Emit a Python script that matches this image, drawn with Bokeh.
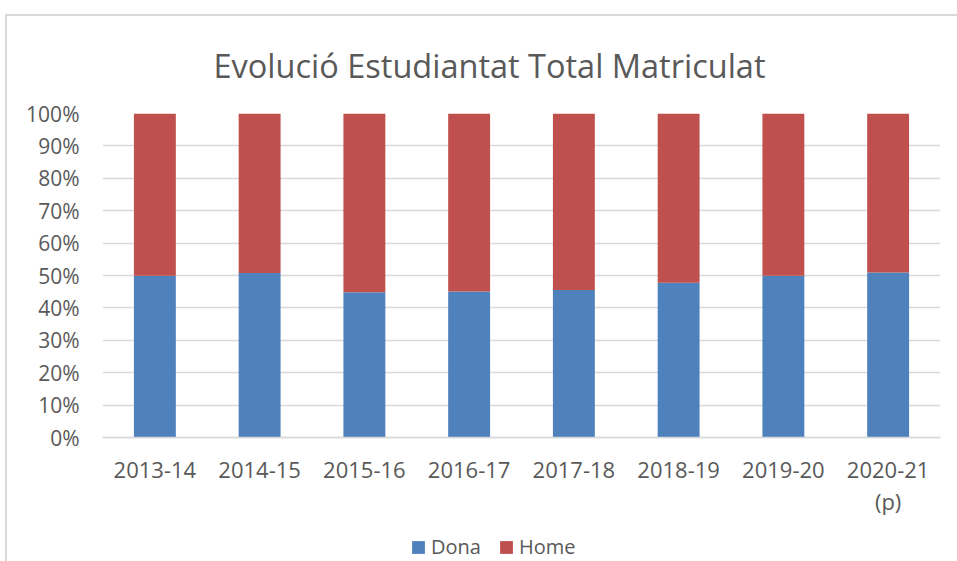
from bokeh.plotting import figure
from bokeh.models import ColumnDataSource, NumeralTickFormatter, FixedTicker, Legend, Label
from bokeh.embed import file_html
from bokeh.resources import INLINE

cursos = ["2013-14", "2014-15", "2015-16", "2016-17", "2017-18", "2018-19", "2019-20", "2020-21"]
nota_curs = "2020-21"
nota = "(p)"
dona = [0.499, 0.508, 0.448, 0.451, 0.455, 0.478, 0.499, 0.509]
home = [round(1 - d, 3) for d in dona]
ticks_y = [0.0, 0.1, 0.2, 0.3, 0.4, 0.5, 0.6, 0.7, 0.8, 0.9, 1.0]

FONT = "Open Sans"
TXT = "#595959"

src = ColumnDataSource(dict(curs=cursos, Dona=dona, Home=home))

# frame extends to the bottom of the canvas; the x axis sits at y = 0
p = figure(x_range=cursos, y_range=(-0.3827, 1), width=957, height=561,
           output_backend="svg", toolbar_location=None,
           min_border_left=102, min_border_right=17, min_border_top=113, min_border_bottom=0)

# light grey chart-area border (top and left edges), drawn behind a transparent canvas border
p.styles = {
    "background-color": "white",
    "background-image": "linear-gradient(#d9d9d9, #d9d9d9), linear-gradient(#d9d9d9, #d9d9d9)",
    "background-size": "100% 2px, 2px 100%",
    "background-position": "5px 14px, 5px 14px",
    "background-repeat": "no-repeat",
}

rs = p.vbar_stack(["Dona", "Home"], x="curs", width=0.4, source=src,
                  color=["#4F81BD", "#C0504D"], line_color=None)

p.title.text = "Evolució Estudiantat Total Matriculat"
p.title.align = "left"
p.title.offset = 111
p.title.text_font = FONT
p.title.text_font_style = "normal"
p.title.text_font_size = "32.5px"
p.title.text_color = TXT
p.title.standoff = 52

p.outline_line_color = None
p.background_fill_color = "white"
p.border_fill_color = None

p.xgrid.grid_line_color = None
p.ygrid.grid_line_color = "#d9d9d9"
p.ygrid.grid_line_width = 1.5
p.yaxis.ticker = FixedTicker(ticks=ticks_y)
p.yaxis.formatter = NumeralTickFormatter(format="0%")

for ax in (p.xaxis, p.yaxis):
    ax.major_tick_line_color = None
    ax.minor_tick_line_color = None
    ax.major_label_text_font = FONT
    ax.major_label_text_color = TXT
p.yaxis.major_label_text_font_size = "21px"
p.xaxis.major_label_text_font_size = "22px"
p.yaxis.axis_line_color = None
p.yaxis.major_label_standoff = 17
p.xaxis.fixed_location = 0
p.xaxis.axis_line_color = "#d9d9d9"
p.xaxis.axis_line_width = 1.5
p.xaxis.major_label_standoff = 18

# categorical factor centre in synthetic coordinates
x_nota = cursos.index(nota_curs) + 0.5
p.add_layout(Label(x=x_nota, y=0, y_offset=-63, text=nota,
                   text_align="center", text_baseline="middle", text_font=FONT,
                   text_font_size="22px", text_color=TXT))

legend = Legend(items=[("Dona", [rs[0]]), ("Home", [rs[1]])], orientation="horizontal",
                location=(308, 1), label_text_font=FONT, label_text_font_size="20px",
                label_text_color=TXT, border_line_color=None, glyph_width=16, glyph_height=16,
                spacing=17, label_standoff=5, margin=0, padding=0, background_fill_alpha=0)
p.add_layout(legend)

open("out.html", "w").write(file_html(p, INLINE))
